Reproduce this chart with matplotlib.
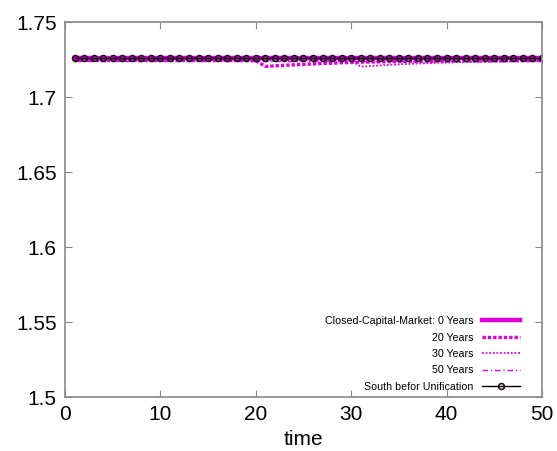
import matplotlib
matplotlib.use("Agg")
import matplotlib.pyplot as plt

plt.rcParams['font.family'] = ['Liberation Sans', 'DejaVu Sans']

time = list(range(1, 51))
closed_0 = [1.726] * 50
years_20 = [1.7245] * 19 + [1.7243, 1.7205, 1.7208, 1.7212, 1.7215, 1.7218, 1.7221, 1.7224, 1.7226, 1.7229, 1.7231,
                            1.7233, 1.7234, 1.7235, 1.7236, 1.7237, 1.7238, 1.7239, 1.7240, 1.7240, 1.7241,
                            1.7241, 1.7242, 1.7242, 1.7243, 1.7243, 1.7243, 1.7244, 1.7244, 1.7244, 1.7245]
years_30 = [1.7245] * 29 + [1.7243, 1.7203, 1.7207, 1.7211, 1.7215, 1.7218, 1.7221, 1.7224, 1.7226, 1.7229, 1.7231,
                            1.7233, 1.7234, 1.7235, 1.7236, 1.7237, 1.7238, 1.7239, 1.7240, 1.7240, 1.7241]
years_50 = [1.7238] * 50
south = [1.726] * 50

magenta = '#dd00dd'

fig = plt.figure(figsize=(5.57, 4.51), dpi=100)
ax = fig.add_axes([0.1167, 0.1197, 0.8563, 0.8313])

ax.plot(time, closed_0, color=magenta, lw=3.2, label='Closed-Capital-Market: 0 Years')
ax.plot(time, years_20, color=magenta, lw=2.4, linestyle=(0, (1, 0.6)), label='20 Years')
ax.plot(time, years_30, color=magenta, lw=1.3, linestyle=(0, (1, 1)), label='30 Years')
ax.plot(time, years_50, color=magenta, lw=1.0, linestyle=(0, (4, 2, 1, 2)), label='50 Years')
ax.plot(time, south, color='black', lw=1.0, marker='o', markersize=4.2,
        markerfacecolor='none', markeredgecolor='#201020', markeredgewidth=1.2,
        label='South befor Unification')

ax.set_xlim(0, 50)
ax.set_ylim(1.5, 1.75)
ax.set_xticks([0, 10, 20, 30, 40, 50])
ax.set_yticks([1.5, 1.55, 1.6, 1.65, 1.7, 1.75])
ax.set_yticklabels(['1.5', '1.55', '1.6', '1.65', '1.7', '1.75'])
ax.tick_params(direction='in', labelsize=15, top=True, right=True, length=5, color='#888888', pad=6)
for s in ax.spines.values():
    s.set_color('#888888')
    s.set_linewidth(1.2)
ax.set_xlabel('time', fontsize=15, labelpad=4)

leg = ax.legend(loc='lower right', frameon=False, fontsize=7.7, markerfirst=False,
                handlelength=3.6, labelspacing=0.6, bbox_to_anchor=(0.975, -0.012))

fig.savefig('out.png', dpi=100)
